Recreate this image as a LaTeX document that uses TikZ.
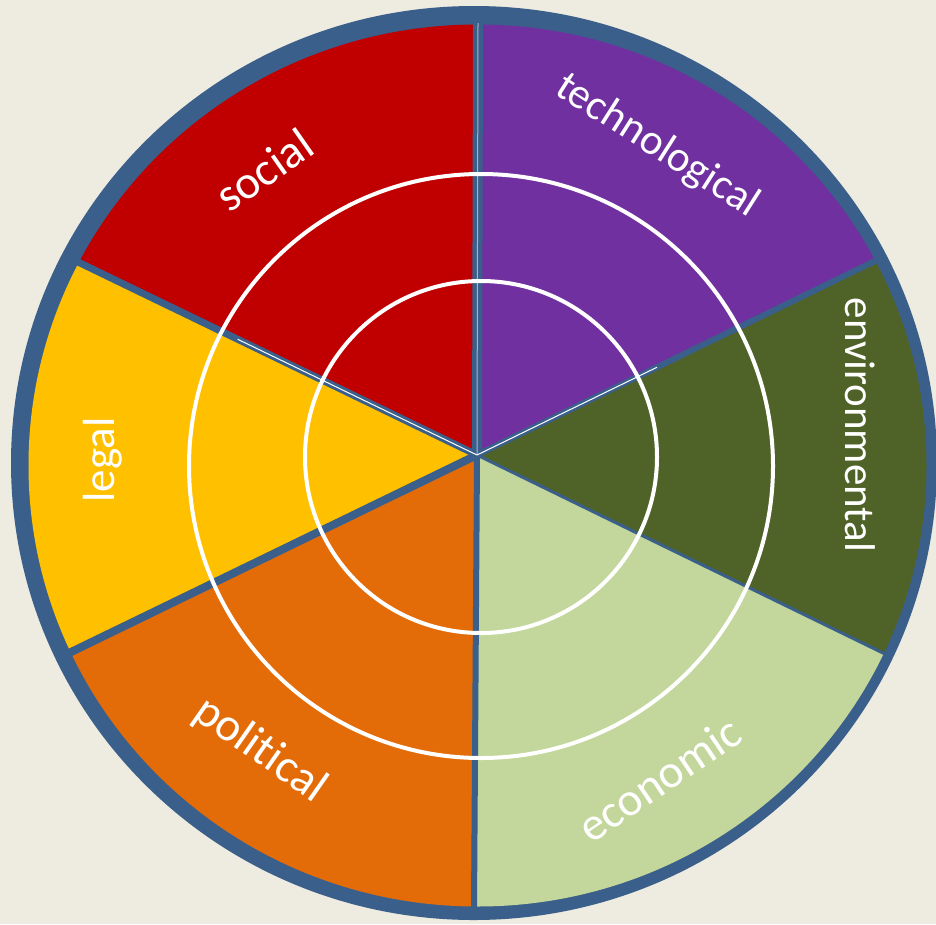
\documentclass[tikz,border=0pt]{standalone}
\usepackage{fontspec}
\setmainfont{Carlito}[Ligatures=NoCommon]
\usetikzlibrary{calc}
\definecolor{bg}{RGB}{238,235,225}
\definecolor{ringblue}{RGB}{58,95,138}
\definecolor{cred}{RGB}{192,0,0}
\definecolor{cpurple}{RGB}{112,48,160}
\definecolor{cdkgreen}{RGB}{79,98,40}
\definecolor{cltgreen}{RGB}{195,214,155}
\definecolor{corange}{RGB}{227,108,9}
\definecolor{cyellow}{RGB}{255,192,0}
\begin{document}
\begin{tikzpicture}[x=1pt,y=-1pt,
  lbl/.style={text=white, font=\fontsize{43}{50}\selectfont, inner sep=0pt},
  big/.style={font=\fontsize{47}{54}\selectfont},
  sep/.style={ringblue},
  ring/.style={white, line width=4pt}]
\useasboundingbox (0,0) rectangle (936,924);
\clip (0,0) rectangle (936,924);
\fill[bg] (0,0) rectangle (936,924);
\fill[ringblue] (474,463) ellipse [x radius=463pt, y radius=457pt];
\coordinate (A) at (477,455);
\coordinate (E) at (477.5,465.5);
\coordinate (Ptop) at (478,23);
\coordinate (Pur) at (877,260);
\coordinate (Plr) at (887,655);
\coordinate (Pbot) at (474,908);
\coordinate (Pll) at (69,653);
\coordinate (Pul) at (78,262);
\newcommand{\sector}[3]{%
  \begin{scope}
    \clip (A) -- ($(A)!2.2!(#1)$) -- ($(A)!2.2!(#2)$) -- cycle;
    \fill[#3] (E) ellipse [x radius=449pt, y radius=441pt];
  \end{scope}}
\sector{Ptop}{Pur}{cpurple}
\sector{Pur}{Plr}{cdkgreen}
\sector{Plr}{Pbot}{cltgreen}
\sector{Pbot}{Pll}{corange}
\sector{Pll}{Pul}{cyellow}
\sector{Pul}{Ptop}{cred}
\begin{scope}
  \clip (474,463) ellipse [x radius=458pt, y radius=452pt];
  \draw[sep, line width=10pt] (A) -- ($(A)!1.03!(Ptop)$);
  \draw[sep, line width=6pt] (A) -- ($(A)!1.03!(Pur)$);
  \draw[sep, line width=3pt] (A) -- ($(A)!1.03!(Plr)$);
  \draw[sep, line width=6pt] (A) -- ($(A)!1.03!(Pbot)$);
  \draw[sep, line width=8pt] (A) -- ($(A)!1.03!(Pll)$);
  \draw[sep, line width=7pt] (A) -- ($(A)!1.03!(Pul)$);
\end{scope}
\draw[white!55!ringblue, line width=1pt] (A) -- (Ptop);
\draw[white, line width=1pt] (A) -- ($(A)!0.6!(Pul)$);
\draw[white, line width=1pt] (A) -- ($(A)!0.45!(Pur)$);
\draw[ring] (481,466) circle [radius=292pt];
\draw[ring] (481,457) circle [radius=176pt];
\node[lbl, big, rotate=35] (social) at (264,170) {social};
\node[lbl, rotate=-32.5] (tech) at (657,146) {technological};
\node[lbl, rotate=-90] (env) at (860,425) {environmental};
\node[lbl, big, rotate=34] (econ) at (659,779) {economic};
\node[lbl, big, rotate=-35] (pol) at (260,750) {political};
\node[lbl, rotate=90, font=\fontsize{45}{52}\selectfont] (legal) at (103,460) {legal};
\end{tikzpicture}
\end{document}
